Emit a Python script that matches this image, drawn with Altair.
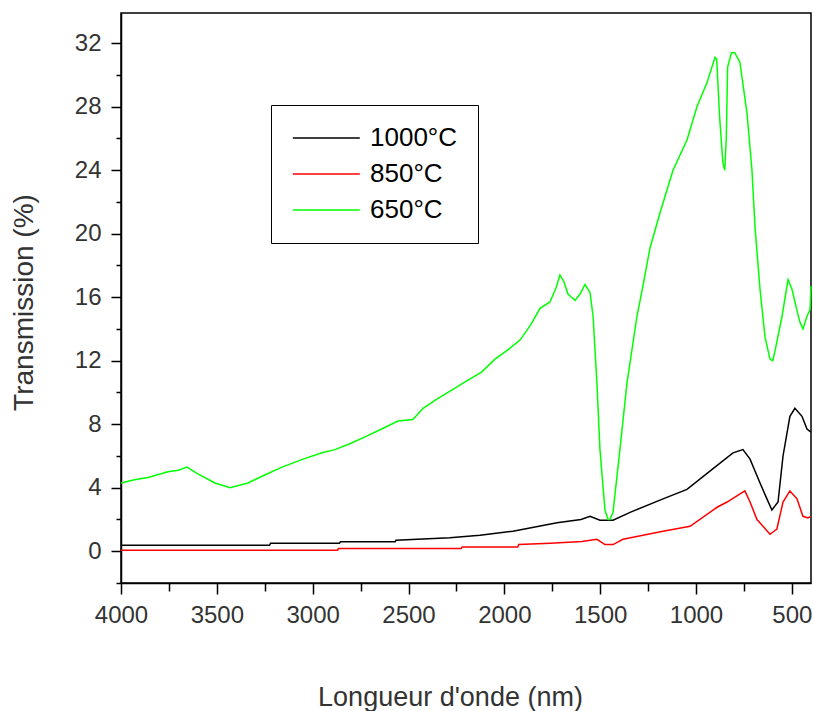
import altair as alt
import pandas as pd

# 650°C (green)
green_x = [4000, 3930, 3859, 3755, 3700, 3656, 3604, 3510, 3431, 3337, 3250, 3160, 3050, 2951, 2884,
           2800, 2727, 2640, 2555, 2477, 2424, 2350, 2294, 2200, 2117, 2049, 1980, 1918, 1860, 1814,
           1762, 1730, 1710, 1690, 1668, 1650, 1631, 1605, 1579, 1553, 1537, 1517, 1501, 1475, 1459,
           1449, 1433, 1397, 1360, 1308, 1277, 1240, 1188, 1120, 1047, 995, 943, 901, 892, 877, 860,
           850, 842, 835, 815, 798, 771, 734, 708, 692, 666, 640, 614, 600, 588, 551, 520, 499, 470,
           457, 442, 421, 405, 400]
green_y = [4.3, 4.5, 4.65, 5.0, 5.1, 5.3, 4.9, 4.3, 4.0, 4.3, 4.8, 5.3, 5.8, 6.2, 6.4,
           6.8, 7.2, 7.7, 8.2, 8.3, 9.0, 9.6, 10.0, 10.7, 11.3, 12.1, 12.7, 13.3, 14.3, 15.3,
           15.7, 16.6, 17.4, 17.0, 16.2, 16.0, 15.8, 16.2, 16.8, 16.3, 14.8, 10.6, 6.4, 2.6, 2.0,
           2.0, 2.45, 6.4, 10.6, 14.8, 16.7, 19.1, 21.3, 24.0, 25.9, 28.0, 29.5, 31.1, 31.0, 27.4, 24.5,
           24.0, 26.0, 30.5, 31.4, 31.4, 30.8, 27.6, 24.0, 20.4, 16.5, 13.5, 12.1, 12.0, 12.6, 14.8, 17.1, 16.5, 15.0,
           14.4, 14.0, 14.8, 15.2, 16.7]

# 1000°C (black)
black_x = [4000, 3225, 3220, 2860, 2855, 2570, 2565, 2284, 2127, 1955, 1725, 1600, 1553, 1501, 1433,
           1344, 1172, 1047, 911, 807, 755, 718, 666, 630, 604, 572, 546, 510, 484, 447, 421, 400]
black_y = [0.38, 0.38, 0.5, 0.5, 0.6, 0.6, 0.7, 0.85, 1.0, 1.26, 1.8, 2.0, 2.2, 1.95, 1.95,
           2.45, 3.3, 3.9, 5.2, 6.2, 6.4, 5.8, 4.3, 3.3, 2.6, 3.1, 6.0, 8.5, 9.0, 8.5, 7.7, 7.5]

# 850°C (red)
red_x = [4000, 2870, 2865, 2225, 2220, 1930, 1925, 1760, 1595, 1517, 1475, 1433, 1381, 1172, 1031,
         890, 838, 745, 718, 682, 614, 578, 546, 510, 473, 442, 416, 400]
red_y = [0.07, 0.07, 0.17, 0.17, 0.27, 0.27, 0.42, 0.5, 0.62, 0.75, 0.42, 0.42, 0.75, 1.26, 1.57,
         2.77, 3.1, 3.8, 3.1, 2.0, 1.07, 1.4, 3.1, 3.8, 3.3, 2.2, 2.1, 2.2]

series_names = ["1000°C", "850°C", "650°C"]
series_colors = ["#000000", "#ff0000", "#00ff00"]

x_major = [4000, 3500, 3000, 2500, 2000, 1500, 1000, 500]
x_minor = [3750, 3250, 2750, 2250, 1750, 1250, 750]
y_major = [0, 4, 8, 12, 16, 20, 24, 28, 32]
y_minor = [-2, 2, 6, 10, 14, 18, 22, 26, 30]

rows = []
for name, xs, ys in [("1000°C", black_x, black_y), ("850°C", red_x, red_y), ("650°C", green_x, green_y)]:
    for i, (a, b) in enumerate(zip(xs, ys)):
        rows.append({"serie": name, "wl": a, "T": b, "i": i})
df = pd.DataFrame(rows)

FONT = "Liberation Sans"
xscale = alt.Scale(domain=[400, 4000], reverse=True, nice=False, zero=False)
yscale = alt.Scale(domain=[-2, 33.9], nice=False, zero=False)

lines = alt.Chart(df).mark_line(strokeWidth=1.5, interpolate="linear").encode(
    x=alt.X("wl:Q", scale=xscale,
            axis=alt.Axis(orient="bottom", values=x_major, format="d", tickSize=11, tickWidth=1.5,
                          tickColor="black", domainColor="black", domainWidth=1.5,
                          labelFontSize=24, labelFont=FONT, labelColor="#333333", labelPadding=9,
                          labelFlush=False, grid=False,
                          title="Longueur d'onde (nm)", titleFont=FONT, titleFontSize=27,
                          titleFontWeight="normal", titleColor="#333333",
                          titleX=329, titleY=122, titleAlign="center", titleBaseline="alphabetic")),
    y=alt.Y("T:Q", scale=yscale,
            axis=alt.Axis(orient="left", values=y_major, tickSize=10, tickWidth=1.5,
                          tickColor="black", domainColor="black", domainWidth=1.5,
                          labelFontSize=24, labelFont=FONT, labelColor="#333333", labelPadding=10,
                          grid=False,
                          title="Transmission (%)", titleFont=FONT, titleFontSize=28,
                          titleFontWeight="normal", titleColor="#333333", titleAngle=-90,
                          titleX=-89, titleY=289, titleAlign="center", titleBaseline="alphabetic")),
    color=alt.Color("serie:N", scale=alt.Scale(domain=series_names, range=series_colors),
                    legend=alt.Legend(orient="none", legendX=150, legendY=92, title=None,
                                      strokeColor="black", padding=20, symbolType="M-1,0H5",
                                      symbolSize=498, symbolStrokeWidth=1.5, labelFontSize=26,
                                      labelFont=FONT, labelColor="black", rowPadding=10,
                                      labelOffset=53, fillColor="white")),
    order="i:Q",
)

minor = alt.Chart(df).mark_point(opacity=0).encode(
    x=alt.X("wl:Q", scale=xscale,
            axis=alt.Axis(orient="bottom", values=x_minor, labels=False, tickSize=8, tickWidth=1.5,
                          tickColor="black", domain=False, grid=False, title=None)),
    y=alt.Y("T:Q", scale=yscale,
            axis=alt.Axis(orient="left", values=y_minor, labels=False, tickSize=5, tickWidth=1.5,
                          tickColor="black", domain=False, grid=False, title=None)),
)

chart = alt.layer(minor, lines).resolve_axis(x="independent", y="independent").properties(
    width=690, height=570,
    autosize=alt.AutoSizeParams(type="none"),
    padding={"left": 121, "top": 13, "right": 3, "bottom": 128},
    background="white",
).configure_view(stroke="black", strokeWidth=1.5)

chart.save("out.html", embed_options={"renderer": "svg", "actions": False})
